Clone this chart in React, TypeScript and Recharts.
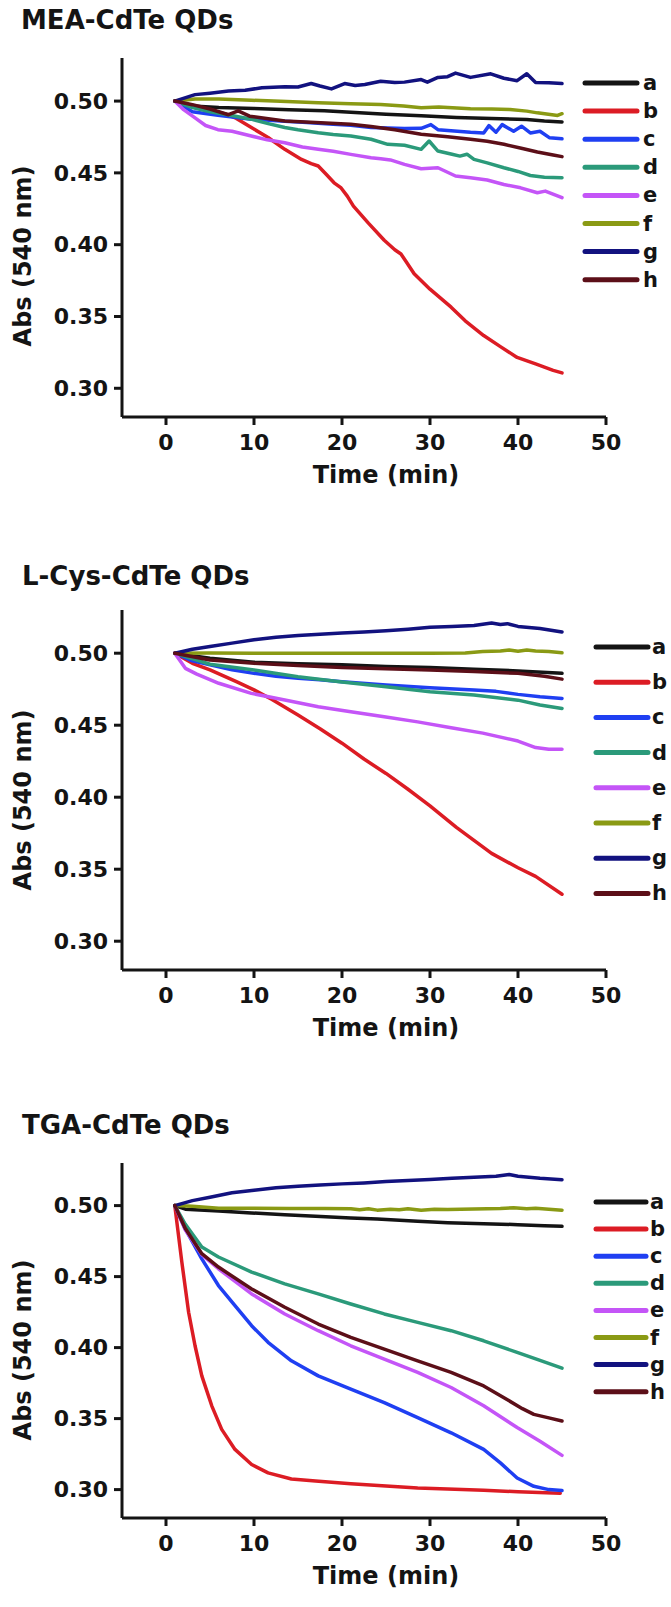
import React from 'react';
import { LineChart, Line, XAxis, YAxis } from 'recharts';

type P = [number, number][];

const SERIES_KEYS = ['a', 'b', 'c', 'd', 'e', 'f', 'g', 'h'];
const SERIES_COLORS = ['#141414', '#dc1c24', '#1f3ff2', '#2b9a7a', '#c455f7', '#8a9a14', '#12127f', '#5c0f18'];
const X_TICKS = [0, 10, 20, 30, 40, 50];
const Y_TICKS = [0.3, 0.35, 0.4, 0.45, 0.5];
const PANEL_TITLES = ['MEA-CdTe QDs', 'L-Cys-CdTe QDs', 'TGA-CdTe QDs'];
const X_TITLE = 'Time (min)';
const Y_TITLE = 'Abs (540 nm)';

// ---------- MEA-CdTe QDs ----------
const MEA_A: P = [[1, .500], [3, .4965], [6, .4955], [10, .4948], [14, .494], [18, .4932], [22, .4918], [25, .4908], [29, .4897], [33, .4885], [37, .4878], [41, .4872], [43, .4862], [45, .4855]];
const MEA_B: P = [[1, .500], [3, .497], [5, .494], [7, .4905], [8, .4879], [9.7, .4816], [11.6, .4746], [13.5, .4664], [15.4, .4594], [16.5, .4565], [17.3, .4548], [18.2, .449], [19.1, .4431], [19.9, .4395], [20.6, .4338], [21.3, .4268], [23, .415], [24.8, .4031], [26, .3965], [26.7, .3935], [27.2, .389], [28.2, .3798], [30, .369], [32.4, .3565], [34, .347], [36.1, .3367], [38, .329], [39.9, .3215], [42, .317], [44, .3125], [45, .3107]];
const MEA_C: P = [[1, .500], [3, .4925], [5.9, .4902], [9.7, .4874], [13, .4862], [16, .485], [19, .4838], [21, .4832], [23.3, .4816], [27.1, .4809], [29, .481], [30.1, .4836], [30.9, .4801], [34.6, .4783], [36.1, .4778], [36.7, .4829], [37.5, .4783], [38.2, .4836], [39.5, .479], [40.4, .4825], [41.4, .4778], [42.5, .479], [43.6, .4744], [45, .4737]];
const MEA_D: P = [[1, .500], [3, .4955], [5, .4925], [7, .4905], [9.7, .4874], [11.5, .4845], [13.5, .4816], [15, .48], [17.3, .478], [19, .4768], [21, .4757], [23.3, .4734], [25.2, .4699], [27.1, .4692], [29, .4664], [29.9, .4722], [30.9, .4652], [32.5, .463], [33.4, .4617], [34.2, .463], [35, .4594], [36.5, .457], [38.4, .4536], [40, .451], [41.4, .4482], [43, .447], [45, .4466]];
const MEA_E: P = [[1, .500], [2, .494], [3.3, .4883], [4.5, .483], [5.9, .4801], [7.5, .479], [9.7, .4757], [11.5, .473], [13.5, .471], [15.5, .468], [17.3, .4664], [19, .465], [21, .4629], [23.3, .4606], [24.4, .4599], [25.5, .459], [27.1, .4559], [29, .4529], [30.9, .4536], [32.9, .4478], [34.6, .4466], [36.5, .445], [38.4, .4419], [40.3, .4396], [42.2, .4362], [43.1, .4373], [45, .4327]];
const MEA_F: P = [[1, .500], [3.3, .5015], [6, .5014], [9.7, .5006], [13, .4998], [17.3, .4988], [21, .4982], [24.4, .4976], [27, .4965], [29, .4953], [31, .4958], [34.6, .4946], [37, .4945], [39.1, .4941], [41, .493], [42.2, .4918], [44.5, .49], [45, .4912]];
const MEA_G: P = [[1, .500], [3.3, .5045], [5, .5055], [7.1, .507], [9, .5075], [10.9, .5093], [13.5, .51], [15, .5098], [16.5, .5122], [17.5, .5105], [18.8, .5085], [20.3, .5122], [21.5, .5108], [22.6, .5115], [24.4, .5138], [26, .513], [27.1, .5132], [29, .515], [29.7, .5132], [30.9, .5165], [32, .517], [32.9, .5195], [34.6, .5165], [36.9, .519], [38.4, .5159], [39.9, .5142], [41, .519], [42, .513], [43.5, .5128], [45, .5122]];
const MEA_H: P = [[1, .500], [3, .4975], [5, .4945], [7.1, .4905], [8.2, .4932], [9.5, .4895], [13.5, .4862], [17, .485], [21, .4839], [23.3, .4823], [26, .48], [29, .4769], [32, .4752], [34.6, .4734], [36.5, .472], [38.4, .4699], [40.5, .467], [42.2, .4645], [44, .4625], [45, .4613]];

// ---------- L-Cys-CdTe QDs ----------
const CYS_A: P = [[1, .500], [5, .4965], [10, .4937], [15, .4927], [20, .4919], [25, .4908], [30, .49], [35, .4888], [40, .4877], [45, .486]];
const CYS_B: P = [[1, .500], [3, .493], [5, .4884], [8, .4802], [10, .4745], [12, .468], [15, .457], [17.5, .4475], [20, .4375], [22.5, .4265], [25, .4165], [27.5, .4055], [30, .394], [33, .379], [35, .37], [37, .361], [40, .351], [42, .345], [45, .3326]];
const CYS_C: P = [[1, .500], [3, .4947], [5, .4919], [7.5, .4885], [10, .486], [12.5, .484], [15, .4826], [17.5, .4815], [20, .4802], [25, .478], [30, .476], [35, .4744], [37.5, .4735], [40, .4714], [42.5, .4698], [45, .4686]];
const CYS_D: P = [[1, .500], [5, .4923], [10, .4884], [15, .4837], [20, .48], [25, .4767], [30, .4733], [35, .471], [40, .4674], [42.5, .464], [45, .4616]];
const CYS_E: P = [[1, .500], [2.2, .4895], [3.5, .4855], [6, .4791], [9.7, .4721], [13.5, .4675], [17.3, .4628], [21, .4593], [24.8, .4558], [28.6, .4523], [32.4, .4482], [36, .4445], [40, .439], [42, .4345], [43.5, .4333], [45, .4333]];
const CYS_F: P = [[1, .500], [5, .5001], [10, .5], [20, .5], [30, .5], [34, .5002], [36, .5012], [38, .5015], [39, .5022], [40, .5014], [41, .5022], [42, .5015], [43.5, .5012], [45, .5003]];
const CYS_G: P = [[1, .500], [3, .5027], [5, .5047], [7.5, .507], [10, .5093], [12.5, .511], [15, .5123], [17.5, .5132], [20, .514], [22.5, .5148], [25, .5156], [27.5, .5167], [30, .518], [32.5, .5186], [35, .5193], [37, .521], [38, .52], [38.8, .5205], [40, .5186], [42.5, .5172], [45, .5147]];
const CYS_H: P = [[1, .500], [5, .4953], [10, .493], [15, .4915], [20, .49], [25, .4892], [30, .4884], [35, .4873], [40, .486], [43, .484], [45, .482]];

// ---------- TGA-CdTe QDs ----------
const TGA_A: P = [[1, .500], [2.2, .4975], [6, .4962], [9.7, .4948], [13.5, .4936], [17, .4925], [21, .4913], [24, .4905], [28.6, .4889], [32, .488], [36.1, .4873], [40, .4866], [43, .4858], [45, .4854]];
const TGA_B: P = [[1, .500], [1.8, .4602], [2.57, .4249], [3.3, .4013], [4.07, .3801], [5.2, .359], [6.33, .3424], [7.84, .3283], [9.73, .3177], [11.6, .3118], [14.25, .3075], [17, .306], [21, .3042], [25, .3025], [28.6, .3012], [32, .3005], [36.1, .2995], [40, .2985], [44.8, .2975]];
const TGA_C: P = [[1, .500], [2.18, .4837], [4.07, .4625], [5.96, .4437], [7.84, .4296], [9.73, .4154], [11.6, .4037], [14.25, .3907], [17.3, .3801], [21, .3707], [24.8, .3613], [28.6, .3507], [32.4, .34], [36.1, .3283], [38, .3188], [39.9, .3082], [41.8, .3023], [43.5, .3], [45, .2993]];
const TGA_D: P = [[1, .500], [2.18, .487], [4.07, .4708], [5.96, .4638], [9.73, .4532], [13.5, .4449], [17.3, .4378], [21, .4307], [24.8, .4237], [28.6, .4178], [32.4, .4119], [36.1, .4048], [39.9, .3966], [42.5, .391], [45, .3855]];
const TGA_E: P = [[1, .500], [2.18, .483], [4.07, .4655], [5.96, .4555], [9.73, .4378], [13.5, .4237], [17.3, .4119], [21, .4013], [24.8, .3919], [28.6, .3825], [32.4, .3719], [36.1, .359], [39.9, .3437], [42.5, .334], [45, .3241]];
const TGA_F: P = [[1, .500], [3, .4995], [6, .4982], [10, .4982], [14, .498], [18, .4979], [21, .4978], [22, .497], [23, .4978], [24, .4968], [25.5, .4975], [26.5, .497], [27.5, .4978], [29, .4968], [30.5, .4975], [32, .4972], [35, .4976], [38, .498], [39.5, .4985], [41, .4978], [42, .4982], [43.5, .4975], [45, .4968]];
const TGA_G: P = [[1, .500], [3, .5035], [5, .5059], [7.5, .509], [10, .5108], [12.5, .5125], [15, .5136], [17.5, .5145], [20, .5153], [22.5, .516], [25, .5169], [27.5, .5176], [30, .5184], [32.5, .5192], [35, .52], [37.5, .5207], [39, .5219], [40, .5207], [42.5, .5192], [45, .5182]];
const TGA_H: P = [[1, .500], [2.18, .484], [4.07, .4661], [5.96, .4567], [9.73, .4413], [13.5, .4284], [17.3, .4166], [21, .4072], [24.8, .3989], [28.6, .3907], [32.4, .3825], [36.1, .373], [38.7, .3636], [40.5, .357], [41.8, .353], [43.5, .3505], [45, .3483]];

const PANEL_SERIES: P[][] = [
  [MEA_A, MEA_B, MEA_C, MEA_D, MEA_E, MEA_F, MEA_G, MEA_H],
  [CYS_A, CYS_B, CYS_C, CYS_D, CYS_E, CYS_F, CYS_G, CYS_H],
  [TGA_A, TGA_B, TGA_C, TGA_D, TGA_E, TGA_F, TGA_G, TGA_H],
];

const FONT = '"DejaVu Sans", "Liberation Sans", Arial, sans-serif';
const INK = '#141414';

// layout per panel (pixels)
const LAYOUT = [
  { plotTop: 58, plotBottom: 417, titleX: 21, titleY: 29, yLabelCY: 256, legendX: 585, legendW: 52, legendLabelX: 643, legendY0: 83, legendStep: 28.1 },
  { plotTop: 610, plotBottom: 970, titleX: 22, titleY: 585, yLabelCY: 800, legendX: 596, legendW: 52, legendLabelX: 652, legendY0: 647, legendStep: 35.2 },
  { plotTop: 1163, plotBottom: 1518, titleX: 22, titleY: 1134, yLabelCY: 1350, legendX: 596, legendW: 50, legendLabelX: 650, legendY0: 1202, legendStep: 27.1 },
];

const toPts = (arr: P) => arr.map(([t, v]) => ({ t, v }));

function Panel({ idx }: { idx: number }) {
  const L = LAYOUT[idx];
  const mTop = 20;
  const height = L.plotBottom - L.plotTop + mTop + 60;
  return (
    <div style={{ position: 'absolute', left: 0, top: L.plotTop - mTop, width: 671, height }}>
      <LineChart width={671} height={height} margin={{ top: mTop, right: 65, bottom: 20, left: 62 }}>
        <XAxis
          dataKey="t"
          type="number"
          domain={[-5, 50]}
          ticks={X_TICKS}
          allowDataOverflow
          height={40}
          axisLine={{ stroke: INK, strokeWidth: 3 }}
          tickLine={{ stroke: INK, strokeWidth: 3 }}
          tickSize={8}
          tickMargin={9}
          tick={{ fill: INK, fontSize: 22, fontWeight: 'bold', fontFamily: FONT }}
        />
        <YAxis
          type="number"
          domain={[0.28, 0.53]}
          ticks={Y_TICKS}
          allowDataOverflow
          width={60}
          axisLine={{ stroke: INK, strokeWidth: 3 }}
          tickLine={{ stroke: INK, strokeWidth: 3 }}
          tickSize={8}
          tickMargin={6}
          tickFormatter={(v: number) => v.toFixed(2)}
          tick={{ fill: INK, fontSize: 22, fontWeight: 'bold', fontFamily: FONT }}
        />
        {PANEL_SERIES[idx].map((s, i) => (
          <Line
            key={SERIES_KEYS[i]}
            data={toPts(s)}
            dataKey="v"
            name={SERIES_KEYS[i]}
            stroke={SERIES_COLORS[i]}
            strokeWidth={3.5}
            strokeLinejoin="round"
            strokeLinecap="round"
            dot={false}
            activeDot={false}
            isAnimationActive={false}
            type="linear"
          />
        ))}
      </LineChart>
    </div>
  );
}

function Overlay() {
  return (
    <svg width={671} height={1607} style={{ position: 'absolute', left: 0, top: 0, pointerEvents: 'none' }} fontFamily={FONT} fontWeight="bold" fill={INK}>
      {LAYOUT.map((L, p) => (
        <g key={p}>
          <text x={L.titleX} y={L.titleY} fontSize={26}>{PANEL_TITLES[p]}</text>
          <text transform={`translate(31, ${L.yLabelCY}) rotate(-90)`} textAnchor="middle" fontSize={24}>{Y_TITLE}</text>
          <text x={386} y={L.plotBottom + 66} textAnchor="middle" fontSize={24}>{X_TITLE}</text>
          {SERIES_KEYS.map((k, i) => {
            const y = L.legendY0 + i * L.legendStep;
            return (
              <g key={k}>
                <line x1={L.legendX} x2={L.legendX + L.legendW} y1={y} y2={y} stroke={SERIES_COLORS[i]} strokeWidth={5} strokeLinecap="round" />
                <text x={L.legendLabelX} y={y + 7} fontSize={21}>{k}</text>
              </g>
            );
          })}
        </g>
      ))}
    </svg>
  );
}

export default function App() {
  return (
    <div style={{ position: 'absolute', left: 0, top: 0, width: 671, height: 1607, background: '#fff' }}>
      {[0, 1, 2].map((i) => (
        <Panel key={i} idx={i} />
      ))}
      <Overlay />
    </div>
  );
}
